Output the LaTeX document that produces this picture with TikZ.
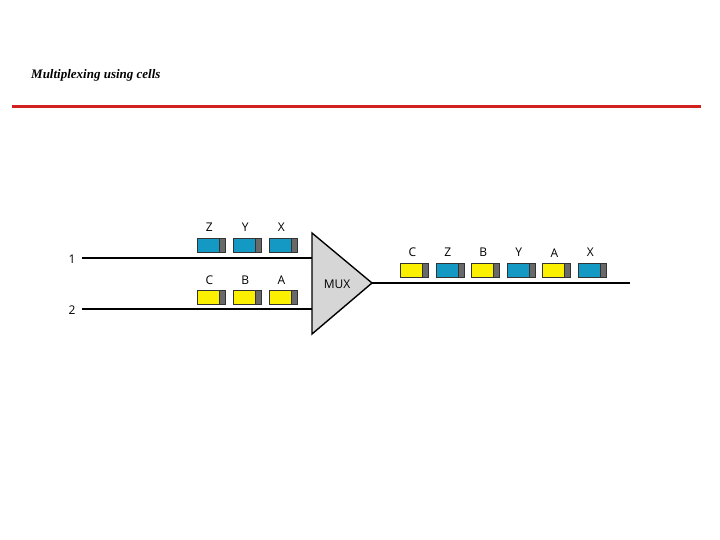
\documentclass[tikz,border=0pt]{standalone}
\usepackage{fontspec}
\setmainfont{Liberation Serif}
\newfontfamily\lblfont{Open Sans}
\definecolor{cellblue}{RGB}{20,152,196}
\definecolor{cellyellow}{RGB}{250,240,0}
\definecolor{cellgray}{RGB}{105,105,105}
\definecolor{muxgray}{RGB}{214,214,214}
\definecolor{titlered}{RGB}{208,32,32}
\tikzset{
  cellbox/.style={draw=black!80, line width=0.6pt, minimum width=28pt, minimum height=14pt, inner sep=0pt, anchor=west},
  tailbox/.style={draw=black!80, line width=0.6pt, fill=cellgray, minimum width=6pt, minimum height=14pt, inner sep=0pt, anchor=east},
  lbl/.style={font=\lblfont\fontsize{12}{14}\selectfont, inner sep=0pt},
  wire/.style={line width=1.3pt, black}
}
\newcommand{\mkcell}[5]{%
  \node[cellbox, fill=#4] (#1) at (#2,#3) {};
  \node[tailbox] (#1t) at (#1.east) {};
  \node[lbl] (#1l) at ([xshift=-2pt,yshift=10pt]#1.north) {#5};
}
\begin{document}
\begin{tikzpicture}[x=1pt,y=-1pt]
\useasboundingbox (0,0) rectangle (720,540);
\node[anchor=west, inner sep=0pt, font=\fontsize{13}{15}\selectfont\bfseries\itshape] (title) at (31,75) {Multiplexing using cells};
\coordinate (rl) at (12,107);
\coordinate (rr) at (701,107);
\draw[titlered, line width=3pt] (rl) -- (rr);
% inputs
\node[lbl] (n1) at (72,259) {1};
\node[lbl] (n2) at (72,310) {2};
\coordinate (i1) at (82,258);
\coordinate (i2) at (82,309);
\coordinate (m1) at (312,258);
\coordinate (m2) at (312,309);
\draw[wire] (i1) -- (m1);
\draw[wire] (i2) -- (m2);
% mux
\coordinate (mt) at (312,233);
\coordinate (mb) at (312,334);
\coordinate (mo) at (372,283);
\draw[fill=muxgray, line width=1.4pt, line join=miter] (mt) -- (mo) -- (mb) -- cycle;
\node[lbl] (mux) at (337,284) {MUX};
\coordinate (oe) at (630,283);
\draw[wire] (mo) -- (oe);
% input cells
\mkcell{z1}{197}{245}{cellblue}{Z}
\mkcell{y1}{233}{245}{cellblue}{Y}
\mkcell{x1}{269}{245}{cellblue}{X}
\mkcell{c2}{197}{297.5}{cellyellow}{C}
\mkcell{b2}{233}{297.5}{cellyellow}{B}
\mkcell{a2}{269}{297.5}{cellyellow}{A}
% output cells
\mkcell{oc}{400}{270}{cellyellow}{C}
\mkcell{oz}{435.5}{270}{cellblue}{Z}
\mkcell{ob}{471}{270}{cellyellow}{B}
\mkcell{oy}{506.5}{270}{cellblue}{Y}
\mkcell{oa}{542}{270}{cellyellow}{A}
\mkcell{ox}{578}{270}{cellblue}{X}
\end{tikzpicture}
\end{document}
